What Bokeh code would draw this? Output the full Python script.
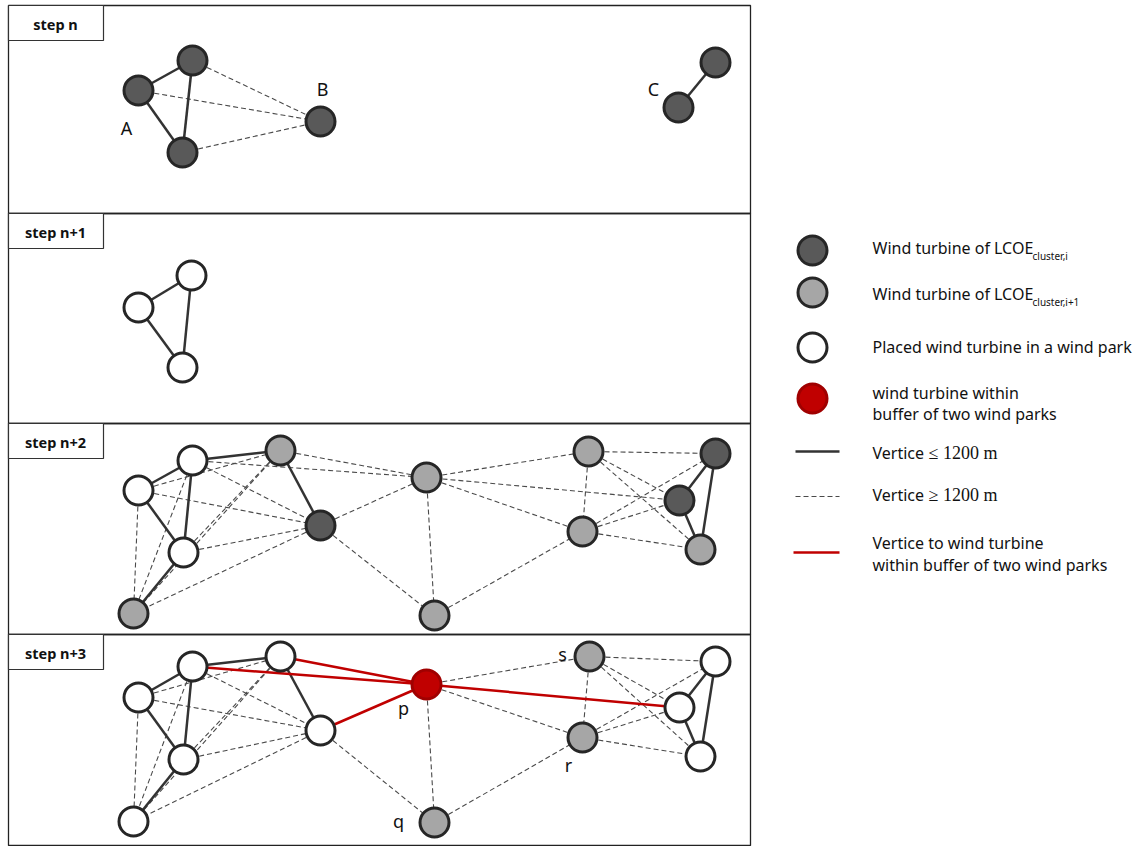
from bokeh.plotting import figure
from bokeh.models import Range1d, ColumnDataSource
from bokeh.core.properties import value
from bokeh.embed import file_html
from bokeh.resources import INLINE

# ---------------- data ----------------
panel_names = ["step n", "step n+1", "step n+2", "step n+3"]
panel_top = [5, 213, 423, 634]
panel_bottom = [213, 423, 634, 845]

# step n
s0_x = [138, 192, 182, 320, 678, 715]
s0_y = [90, 60, 152, 121, 107, 62]
s0_kind = ["dark", "dark", "dark", "dark", "dark", "dark"]
s0_solid = [(0, 1), (0, 2), (1, 2), (4, 5)]
s0_dashed = [(1, 3), (0, 3), (2, 3)]
s0_red = []

# step n+1
s1_x = [138, 191, 182]
s1_y = [307, 275, 367]
s1_kind = ["white", "white", "white"]
s1_solid = [(0, 1), (0, 2), (1, 2)]
s1_dashed = []
s1_red = []

# step n+2
s2_x = [138, 192, 183, 280, 320, 133, 426, 434, 588, 582, 715, 679, 700]
s2_y = [490, 460, 552, 450, 525, 613, 477, 615, 451, 531, 453, 500, 549]
s2_kind = ["white", "white", "white", "gray", "dark", "gray", "gray", "gray",
           "gray", "gray", "dark", "dark", "gray"]
s2_solid = [(0, 1), (0, 2), (1, 2), (1, 3), (2, 5), (3, 4), (10, 11), (10, 12), (11, 12)]
s2_dashed = [(0, 5), (1, 5), (3, 5), (4, 5), (0, 3), (0, 4), (1, 4), (2, 4), (2, 3),
             (1, 6), (3, 6), (4, 6), (4, 7), (6, 7), (6, 8), (6, 9), (6, 11), (7, 9),
             (8, 9), (8, 10), (8, 11), (8, 12), (9, 10), (9, 11), (9, 12)]
s2_red = []

# step n+3
s3_x = [138, 192, 183, 280, 320, 133, 426, 434, 589, 582, 715, 679, 700]
s3_y = [697, 666, 759, 656, 730, 821, 684, 822, 656, 737, 661, 707, 756]
s3_kind = ["white", "white", "white", "white", "white", "white", "red", "gray",
           "gray", "gray", "white", "white", "white"]
s3_solid = [(0, 1), (0, 2), (1, 2), (1, 3), (2, 5), (3, 4), (10, 11), (10, 12), (11, 12)]
s3_dashed = [(0, 5), (1, 5), (3, 5), (4, 5), (0, 3), (0, 4), (1, 4), (2, 4), (2, 3),
             (4, 7), (6, 7), (6, 8), (6, 9), (7, 9), (8, 9), (8, 10), (8, 11), (8, 12),
             (9, 10), (9, 11), (9, 12)]
s3_red = [(1, 6), (3, 6), (4, 6), (6, 11)]

node_labels = ["A", "B", "C", "p", "q", "s", "r"]
node_label_x = [126, 322, 653, 403, 398, 562, 568]
node_label_y = [127, 88, 88, 707, 820, 653, 764]

legend_kinds = ["dark", "gray", "white", "red"]
legend_texts = ["Wind turbine of LCOE", "Wind turbine of LCOE",
                "Placed wind turbine in a wind park"]
legend_subs = ["cluster,i", "cluster,i+1"]

# ---------------- styles ----------------
FILL = {"dark": "#595959", "gray": "#a6a6a6", "white": "#ffffff", "red": "#c00000"}
EDGE = {"dark": "#262626", "gray": "#262626", "white": "#262626", "red": "#a00000"}
SANS = value("Noto Sans")

p = figure(width=1138, height=846, x_range=Range1d(0, 1138), y_range=Range1d(846, 0),
           output_backend="svg", toolbar_location=None, min_border=0,
           x_axis_location=None, y_axis_location=None)
p.grid.visible = False
p.outline_line_color = None
p.background_fill_color = "white"

# panels
p.quad(left=[8] * 4, right=[750] * 4, top=panel_top, bottom=panel_bottom,
       fill_color=None, line_color="#222222", line_width=1.3)
p.quad(left=[8] * 4, right=[103] * 4, top=panel_top,
       bottom=[t + 35 for t in panel_top], fill_color="white",
       line_color="#333333", line_width=1.2)
p.text(x=[55] * 4, y=[t + 18 for t in panel_top], text=panel_names,
       text_font=SANS, text_font_style="bold", text_font_size="14.5px",
       text_align="center", text_baseline="middle", text_color="#111111")

steps = [
    (s0_x, s0_y, s0_kind, s0_solid, s0_dashed, s0_red),
    (s1_x, s1_y, s1_kind, s1_solid, s1_dashed, s1_red),
    (s2_x, s2_y, s2_kind, s2_solid, s2_dashed, s2_red),
    (s3_x, s3_y, s3_kind, s3_solid, s3_dashed, s3_red),
]


def segs(xs, ys, edges):
    return dict(x0=[xs[a] for a, b in edges], y0=[ys[a] for a, b in edges],
                x1=[xs[b] for a, b in edges], y1=[ys[b] for a, b in edges])


for xs, ys, kinds, solid, dashed, red in steps:
    if dashed:
        p.segment(source=ColumnDataSource(segs(xs, ys, dashed)), x0="x0", y0="y0",
                  x1="x1", y1="y1", line_color="#4a4a4a", line_width=1.1,
                  line_dash="5 3")
    if solid:
        p.segment(source=ColumnDataSource(segs(xs, ys, solid)), x0="x0", y0="y0",
                  x1="x1", y1="y1", line_color="#333333", line_width=2.5)
    if red:
        p.segment(source=ColumnDataSource(segs(xs, ys, red)), x0="x0", y0="y0",
                  x1="x1", y1="y1", line_color="#c00000", line_width=2.5)
    p.scatter(x=xs, y=ys, size=29, marker="circle",
              fill_color=[FILL[k] for k in kinds],
              line_color=[EDGE[k] for k in kinds], line_width=3)

p.text(x=node_label_x, y=node_label_y, text=node_labels, text_font=SANS,
       text_font_size="18px", text_align="center", text_baseline="middle",
       text_color="#111111")

# ---------------- legend ----------------
leg_y = [250, 292, 347, 398]
p.scatter(x=[812] * 4, y=leg_y, size=29, marker="circle",
          fill_color=[FILL[k] for k in legend_kinds],
          line_color=[EDGE[k] for k in legend_kinds], line_width=3)
p.segment(x0=[795], y0=[451], x1=[839], y1=[451], line_color="#333333", line_width=2.5)
p.segment(x0=[795], y0=[496], x1=[839], y1=[496], line_color="#4a4a4a", line_width=1.1,
          line_dash="5 3")
p.segment(x0=[793], y0=[552], x1=[839], y1=[552], line_color="#c00000", line_width=2.5)

TX = 872
FS = "16px"
p.text(x=[TX] * 3, y=[247, 293, 346], text=legend_texts, text_font=SANS,
       text_font_size=FS, text_align="left", text_baseline="middle",
       text_color="#111111")
p.text(x=[1032, 1032], y=[255, 301], text=legend_subs, text_font=SANS,
       text_font_size="10px", text_align="left", text_baseline="middle",
       text_color="#111111")
p.text(x=[TX] * 2, y=[392, 413], text=["wind turbine within", "buffer of two wind parks"],
       text_font=SANS, text_font_size=FS, text_align="left",
       text_baseline="middle", text_color="#111111")
p.text(x=[TX] * 2, y=[452, 494], text=["Vertice", "Vertice"], text_font=SANS,
       text_font_size=FS, text_align="left", text_baseline="middle",
       text_color="#111111")
p.text(x=[928] * 2, y=[452, 494], text=["\u2264 1200 m", "\u2265 1200 m"],
       text_font=value("Liberation Serif"), text_font_size="18px",
       text_align="left", text_baseline="middle", text_color="#111111")
p.text(x=[TX] * 2, y=[542, 564],
       text=["Vertice to wind turbine", "within buffer of two wind parks"],
       text_font=SANS, text_font_size=FS, text_align="left",
       text_baseline="middle", text_color="#111111")

open("out.html", "w").write(file_html(p, INLINE))
